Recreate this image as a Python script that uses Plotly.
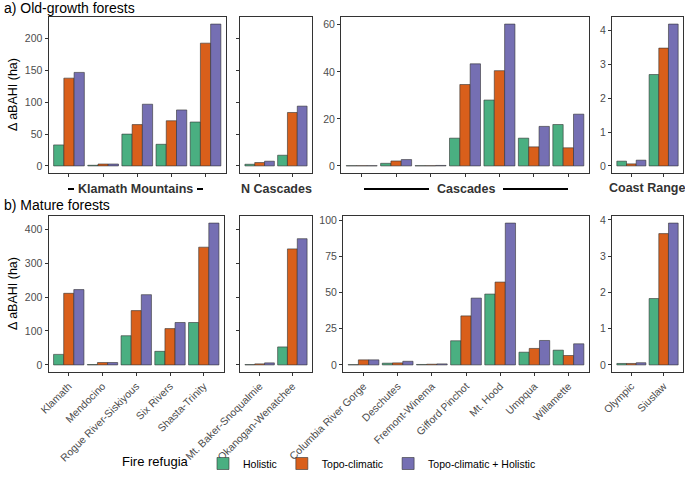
import plotly.graph_objects as go

# ---------------- data ----------------
series = ["Holistic", "Topo-climatic", "Topo-climatic + Holistic"]
colors = ["#4aaf81", "#d95f1b", "#756fb3"]

klamath_cats = ["Klamath", "Mendocino", "Rogue River-Siskiyous", "Six Rivers", "Shasta-Trinity"]
ncasc_cats = ["Mt. Baker-Snoqualmie", "Okanogan-Wenatchee"]
casc_cats = ["Columbia River Gorge", "Deschutes", "Fremont-Winema", "Gifford Pinchot",
             "Mt. Hood", "Umpqua", "Willamette"]
coast_cats = ["Olympic", "Siuslaw"]

# a) Old-growth forests
og_klamath_hol = [33, 1, 50, 34, 69]
og_klamath_topo = [138, 3, 65, 71, 193]
og_klamath_both = [147, 3, 97, 88, 223]
og_ncasc_hol = [2.6, 16.8]
og_ncasc_topo = [5.3, 84]
og_ncasc_both = [7.4, 94]
og_casc_hol = [0.1, 1.1, 0.1, 11.8, 28, 11.8, 17.6]
og_casc_topo = [0.1, 2.1, 0.1, 34.6, 40.5, 8.1, 7.7]
og_casc_both = [0.1, 2.7, 0.2, 43.4, 60.3, 16.8, 22]
og_coast_hol = [0.14, 2.7]
og_coast_topo = [0.06, 3.48]
og_coast_both = [0.17, 4.19]

# b) Mature forests
m_klamath_hol = [31, 1, 86, 40, 125]
m_klamath_topo = [211, 7, 160, 107, 347]
m_klamath_both = [222, 7, 207, 125, 418]
m_ncasc_hol = [1, 53]
m_ncasc_topo = [3, 342]
m_ncasc_both = [6, 372]
m_casc_hol = [0.2, 1.2, 0.3, 16.7, 49, 8.8, 10.2]
m_casc_topo = [3.5, 1.4, 0.5, 33.9, 57.3, 11.4, 6.5]
m_casc_both = [3.5, 2.5, 0.7, 46.2, 98.1, 16.9, 14.6]
m_coast_hol = [0.04, 1.83]
m_coast_topo = [0.04, 3.62]
m_coast_both = [0.06, 3.91]

# ---------------- layout helpers ----------------
W, H = 685, 478
FONT = "Liberation Sans"
GREY = "#4d4d4d"

def px_x(a, b):
    return [a / W, b / W]

def px_y(top, bottom):
    return [1 - bottom / H, 1 - top / H]

row_a_y = px_y(17, 173)
row_b_y = px_y(216, 372)

panels = [
    (klamath_cats, [og_klamath_hol, og_klamath_topo, og_klamath_both], px_x(48.5, 226), row_a_y, 50, "a1", False, True),
    (ncasc_cats, [og_ncasc_hol, og_ncasc_topo, og_ncasc_both], px_x(240, 312), row_a_y, 50, "a1", False, False),
    (casc_cats, [og_casc_hol, og_casc_topo, og_casc_both], px_x(341, 589), row_a_y, 20, "a2", False, True),
    (coast_cats, [og_coast_hol, og_coast_topo, og_coast_both], px_x(612, 683), row_a_y, 1, "a3", False, True),
    (klamath_cats, [m_klamath_hol, m_klamath_topo, m_klamath_both], px_x(48.5, 224), row_b_y, 100, "b1", True, True),
    (ncasc_cats, [m_ncasc_hol, m_ncasc_topo, m_ncasc_both], px_x(240, 312), row_b_y, 100, "b1", True, False),
    (casc_cats, [m_casc_hol, m_casc_topo, m_casc_both], px_x(343, 589), row_b_y, 25, "b2", True, True),
    (coast_cats, [m_coast_hol, m_coast_topo, m_coast_both], px_x(612, 683), row_b_y, 1, "b3", True, True),
]

group_max = {}
for cats, vals, xd, yd, dt, grp, sx, sy in panels:
    m = max(max(v) for v in vals)
    group_max[grp] = max(group_max.get(grp, 0), m)

fig = go.Figure()
layout = {}
for i, (cats, vals, xd, yd, dt, grp, sx, sy) in enumerate(panels):
    n = i + 1
    xa = "x" if n == 1 else f"x{n}"
    ya = "y" if n == 1 else f"y{n}"
    for s, (name, col, v) in enumerate(zip(series, colors, vals)):
        fig.add_trace(go.Bar(
            x=cats, y=v, name=name, xaxis=xa, yaxis=ya,
            marker=dict(color=col, line=dict(color="#333333", width=0.6)),
            showlegend=(n == 1), legendgroup=name,
        ))
    m = group_max[grp]
    xkey = "xaxis" if n == 1 else f"xaxis{n}"
    ykey = "yaxis" if n == 1 else f"yaxis{n}"
    layout[xkey] = dict(
        domain=xd, anchor=ya, type="category", range=[-0.6, len(cats) - 0.4],
        showline=True, mirror=True, linecolor="#333333", linewidth=1,
        ticks="outside", ticklen=3, tickcolor="#333333",
        showticklabels=sx, tickangle=-45,
        tickfont=dict(family=FONT, size=10.5, color=GREY),
        showgrid=False, zeroline=False, automargin=False, fixedrange=True,
    )
    layout[ykey] = dict(
        domain=yd, anchor=xa, range=[-0.05 * m, 1.05 * m], dtick=dt, tick0=0,
        showline=True, mirror=True, linecolor="#333333", linewidth=1,
        ticks="outside", ticklen=3, tickcolor="#333333",
        showticklabels=sy, tickfont=dict(family=FONT, size=10.5, color=GREY),
        showgrid=False, zeroline=False, automargin=False, fixedrange=True,
    )

annotations = [
    dict(text="a) Old-growth forests", x=2 / W, y=1 - 8 / H, xanchor="left", yanchor="middle",
         font=dict(family=FONT, size=14, color="black")),
    dict(text="b) Mature forests", x=2 / W, y=1 - 205 / H, xanchor="left", yanchor="middle",
         font=dict(family=FONT, size=14, color="black")),
    dict(text="Δ aBAHI (ha)", x=13 / W, y=1 - 95 / H, textangle=-90, xanchor="center", yanchor="middle",
         font=dict(family=FONT, size=12.5, color="black")),
    dict(text="Δ aBAHI (ha)", x=13 / W, y=1 - 294 / H, textangle=-90, xanchor="center", yanchor="middle",
         font=dict(family=FONT, size=12.5, color="black")),
    dict(text="<b>Klamath Mountains</b>", x=135.5 / W, y=1 - 189 / H, xanchor="center", yanchor="middle",
         font=dict(family=FONT, size=12.5, color="#333333")),
    dict(text="<b>N Cascades</b>", x=276 / W, y=1 - 189 / H, xanchor="center", yanchor="middle",
         font=dict(family=FONT, size=12.5, color="#333333")),
    dict(text="<b>Cascades</b>", x=466 / W, y=1 - 189 / H, xanchor="center", yanchor="middle",
         font=dict(family=FONT, size=12.5, color="#333333")),
    dict(text="<b>Coast Range</b>", x=647 / W, y=1 - 188 / H, xanchor="center", yanchor="middle",
         font=dict(family=FONT, size=12.5, color="#333333")),
]
for a in annotations:
    a.update(xref="paper", yref="paper", showarrow=False)

line_segs = [(68, 74), (197, 203), (364, 429), (503, 568)]
shapes = [dict(type="line", xref="paper", yref="paper", x0=a / W, x1=b / W,
               y0=1 - 189 / H, y1=1 - 189 / H, line=dict(color="black", width=2))
          for a, b in line_segs]

fig.update_layout(
    width=W, height=H, margin=dict(l=0, r=0, t=0, b=0),
    paper_bgcolor="white", plot_bgcolor="white",
    barmode="group", bargap=0.1, bargroupgap=0,
    font=dict(family=FONT),
    annotations=annotations, shapes=shapes,
    legend=dict(orientation="h", x=120 / W, xanchor="left", y=0.0, yanchor="bottom",
                bgcolor="rgba(0,0,0,0)",
                title=dict(text="Fire refugia  ", font=dict(family=FONT, size=13, color="black"), side="left"),
                font=dict(family=FONT, size=10.5, color="black"), itemwidth=30,
                traceorder="normal"),
    **layout,
)

fig.write_html("out.html", config={"displayModeBar": False},
               post_script="document.body.style.margin='0';document.body.style.padding='0';"
                           "document.documentElement.style.overflow='hidden';")
